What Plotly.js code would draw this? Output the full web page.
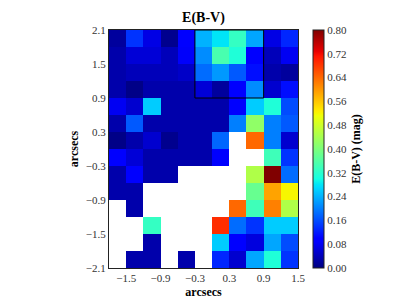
<!DOCTYPE html>
<html>
<head>
<meta charset="utf-8">
<script src="https://cdn.plot.ly/plotly-3.0.1.min.js"></script>
<style>html,body{margin:0;padding:0;background:#fff;}#chart{width:399px;height:299px;}</style>
</head>
<body>
<div id="chart"></div>
<script>
// cell centres (arcsec)
var xCenters = [-1.65, -1.35, -1.05, -0.75, -0.45, -0.15, 0.15, 0.45, 0.75, 1.05, 1.35];
var yCenters = [1.95, 1.65, 1.35, 1.05, 0.75, 0.45, 0.15, -0.15, -0.45, -0.75, -1.05, -1.35, -1.65, -1.95];
var N = null;
// E(B-V) values, rows from top (y=1.95) to bottom (y=-1.95)
var row0  = [0.02, 0.14, 0.07, 0.01, 0.10, 0.24, 0.28, 0.33, 0.23, 0.07, 0.13];
var row1  = [0.03, 0.06, 0.06, 0.04, 0.085, 0.21, 0.35, 0.31, 0.10, 0.04, 0.08];
var row2  = [0.03, 0.04, 0.04, 0.04, 0.05, 0.185, 0.22, 0.17, 0.11, 0.03, 0.02];
var row3  = [0.03, 0.005, 0.03, 0.03, 0.03, 0.06, 0.02, 0.10, 0.21, 0.055, 0.11];
var row4  = [0.08, 0.055, 0.26, 0.03, 0.03, 0.03, 0.03, 0.10, 0.26, 0.31, 0.16];
var row5  = [0.03, 0.17, 0.03, 0.03, 0.03, 0.03, 0.03, 0.20, 0.42, 0.20, 0.17];
var row6  = [0.005, 0.03, 0.055, 0.01, 0.03, 0.03, 0.18, N, 0.64, 0.20, 0.055];
var row7  = [0.10, 0.06, 0.03, 0.03, 0.03, 0.03, 0.10, N, N, 0.34, 0.14];
var row8  = [0.03, 0.10, 0.03, 0.03, N, N, N, N, 0.45, 0.80, 0.185];
var row9  = [0.03, 0.03, N, N, N, N, N, N, 0.38, 0.59, 0.52];
var row10 = [N, 0.03, N, N, N, N, N, 0.64, 0.34, 0.62, 0.45];
var row11 = [N, N, 0.33, N, N, N, 0.69, 0.185, 0.14, 0.26, 0.26];
var row12 = [N, N, 0.03, N, N, N, 0.26, 0.10, 0.065, 0.23, 0.16];
var row13 = [N, 0.03, 0.03, N, 0.03, N, 0.13, 0.055, 0.23, 0.31, 0.14];
var zRows = [row0,row1,row2,row3,row4,row5,row6,row7,row8,row9,row10,row11,row12,row13];

var xTicks = [-1.5, -0.9, -0.3, 0.3, 0.9, 1.5];
var xTickText = ['\u22121.5', '\u22120.9', '\u22120.3', '0.3', '0.9', '1.5'];
var yTicks = [-2.1, -1.5, -0.9, -0.3, 0.3, 0.9, 1.5, 2.1];
var yTickText = ['\u22122.1', '\u22121.5', '\u22120.9', '\u22120.3', '0.3', '0.9', '1.5', '2.1'];
var cbTicks = [0, 0.08, 0.16, 0.24, 0.32, 0.40, 0.48, 0.56, 0.64, 0.72, 0.80];
var boxX = [-0.3, 0.9];
var boxY = [0.9, 2.1];

// matplotlib "jet" colormap, piecewise linear
function seg(pts, f){
  for (var i=1;i<pts.length;i++){
    if (f<=pts[i][0]){var a=pts[i-1],b=pts[i];return a[1]+(b[1]-a[1])*(f-a[0])/(b[0]-a[0]);}
  }
  return pts[pts.length-1][1];
}
var R=[[0,0],[0.35,0],[0.66,1],[0.89,1],[1,0.5]];
var G=[[0,0],[0.125,0],[0.375,1],[0.64,1],[0.91,0],[1,0]];
var B=[[0,0.5],[0.11,1],[0.34,1],[0.65,0],[1,0]];
var stops=[0,0.11,0.125,0.34,0.35,0.375,0.64,0.65,0.66,0.89,0.91,1];
var jet=stops.map(function(f){
  return [f,'rgb('+Math.round(255*seg(R,f))+','+Math.round(255*seg(G,f))+','+Math.round(255*seg(B,f))+')'];
});

var serif='"Liberation Serif", "DejaVu Serif", serif';
var tickFont={family:serif,size:11,color:'#333'};

var trace={
  type:'heatmap', x:xCenters, y:yCenters, z:zRows,
  zmin:0, zmax:0.8, colorscale:jet, hoverongaps:false,
  colorbar:{
    x:1.079, xanchor:'left', y:0.5, yanchor:'middle',
    len:1, lenmode:'fraction', thickness:11, thicknessmode:'pixels',
    xpad:0, ypad:0, outlinewidth:1, outlinecolor:'#222',
    tickvals:cbTicks, tickformat:'.2f', ticks:'', ticklabelposition:'outside',
    tickfont:tickFont,
    title:{text:'<b>E(B-V) (mag)</b>', side:'right', font:{family:serif,size:12,color:'#000'}}
  }
};

var layout={
  width:399, height:299,
  margin:{l:109, r:101, t:30, b:31},
  paper_bgcolor:'#fff', plot_bgcolor:'#fff',
  title:{text:'<b>E(B-V)</b>', font:{family:serif,size:14,color:'#000'},
         x:0.5, xref:'paper', xanchor:'center', y:1-17/299, yref:'container', yanchor:'middle'},
  xaxis:{range:[-1.8,1.5], tickvals:xTicks, ticktext:xTickText, ticks:'', showgrid:false, zeroline:false,
         showline:true, mirror:true, linecolor:'#222', linewidth:1, tickfont:tickFont,
         title:{text:'<b>arcsecs</b>', font:{family:serif,size:12,color:'#000'}, standoff:4}},
  yaxis:{range:[-2.1,2.1], tickvals:yTicks, ticktext:yTickText, ticks:'', showgrid:false, zeroline:false,
         showline:true, mirror:true, linecolor:'#222', linewidth:1, tickfont:tickFont,
         title:{text:'<b>arcsecs</b>', font:{family:serif,size:12,color:'#000'}, standoff:4}},
  shapes:[{type:'rect', xref:'x', yref:'y', x0:boxX[0], x1:boxX[1], y0:boxY[0], y1:boxY[1],
           line:{color:'#000', width:1}, fillcolor:'rgba(0,0,0,0)'}]
};

Plotly.newPlot('chart',[trace],layout,{displayModeBar:false, staticPlot:true});
</script>
</body>
</html>
